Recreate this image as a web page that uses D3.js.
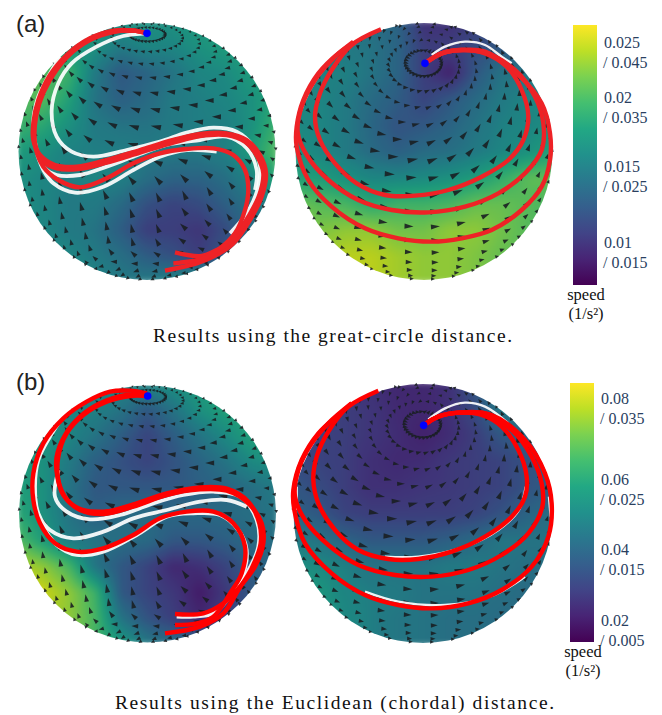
<!DOCTYPE html>
<html>
<head>
<meta charset="utf-8">
<script src="https://cdn.jsdelivr.net/npm/d3@7"></script>
<style>
  html, body { margin: 0; padding: 0; background: #fff; }
  svg { display: block; }
</style>
</head>
<body>
<div id="my_dataviz"></div>
<script>
const fieldTopLeft = [
  [.60,.60,.60,.60,.55,.55,.55,.60,.60,.60,.60],
  [.65,.65,.60,.55,.45,.50,.50,.55,.60,.62,.62],
  [.75,.75,.70,.45,.30,.35,.42,.50,.52,.60,.65],
  [.75,.75,.62,.42,.33,.38,.45,.47,.50,.55,.65],
  [.70,.65,.55,.45,.42,.42,.45,.47,.47,.55,.70],
  [.60,.55,.48,.47,.47,.45,.45,.45,.48,.60,.75],
  [.55,.50,.47,.50,.48,.40,.35,.35,.40,.50,.65],
  [.55,.50,.45,.45,.38,.27,.22,.25,.33,.42,.50],
  [.55,.50,.45,.42,.32,.20,.20,.17,.25,.38,.45],
  [.55,.55,.50,.45,.40,.32,.27,.20,.30,.45,.50],
  [.60,.60,.55,.50,.45,.45,.50,.60,.60,.60,.60]
];
const fieldTopRight = [
  [.40,.40,.40,.40,.35,.15,.15,.20,.30,.40,.40],
  [.45,.45,.45,.42,.35,.20,.20,.25,.30,.30,.30],
  [.48,.48,.48,.42,.35,.20,.10,.30,.42,.42,.40],
  [.50,.50,.45,.38,.32,.22,.30,.38,.45,.50,.50],
  [.52,.50,.45,.36,.28,.30,.35,.42,.48,.50,.55],
  [.55,.50,.45,.38,.33,.38,.40,.45,.50,.55,.62],
  [.62,.60,.55,.50,.50,.52,.55,.60,.68,.76,.78],
  [.80,.75,.72,.65,.70,.70,.72,.78,.78,.75,.72],
  [.85,.82,.85,.85,.80,.80,.85,.85,.80,.75,.72],
  [.85,.88,.92,.92,.88,.85,.85,.82,.78,.75,.72],
  [.85,.88,.92,.92,.88,.85,.85,.82,.78,.75,.72]
];
const fieldBottomLeft = [
  [.50,.50,.50,.50,.50,.50,.55,.60,.65,.65,.65],
  [.55,.55,.50,.48,.42,.30,.42,.55,.62,.65,.65],
  [.58,.58,.50,.42,.32,.22,.32,.42,.52,.62,.65],
  [.60,.55,.45,.33,.27,.22,.28,.35,.42,.52,.55],
  [.62,.55,.42,.30,.30,.30,.30,.33,.36,.40,.45],
  [.65,.55,.42,.33,.38,.38,.37,.37,.38,.40,.42],
  [.75,.60,.45,.42,.40,.38,.30,.30,.33,.38,.40],
  [.92,.85,.72,.42,.30,.22,.12,.15,.22,.33,.36],
  [1.0,.95,.85,.70,.30,.22,.18,.08,.18,.30,.35],
  [.95,.90,.85,.72,.42,.28,.20,.12,.22,.30,.35],
  [.90,.85,.80,.72,.60,.45,.40,.35,.35,.35,.35]
];
const fieldBottomRight = [
  [.17,.17,.17,.15,.12,.12,.15,.30,.50,.50,.50],
  [.20,.20,.20,.17,.13,.12,.15,.25,.45,.50,.50],
  [.22,.22,.20,.17,.14,.10,.14,.20,.30,.35,.35],
  [.25,.22,.20,.15,.13,.14,.18,.20,.22,.28,.30],
  [.30,.25,.20,.15,.15,.17,.18,.20,.22,.28,.32],
  [.35,.30,.22,.20,.20,.20,.20,.22,.28,.35,.40],
  [.45,.42,.35,.30,.30,.30,.33,.38,.43,.42,.42],
  [.55,.52,.48,.42,.42,.42,.45,.45,.42,.40,.40],
  [.62,.58,.50,.47,.45,.42,.42,.42,.40,.38,.38],
  [.62,.58,.52,.47,.43,.42,.40,.40,.38,.38,.38],
  [.62,.58,.52,.47,.43,.42,.40,.40,.38,.38,.38]
];

// Arrow heading on screen in degrees (0 = right, 90 = up), rows top to bottom
const headingLeft = [
  [120,130,150,170,190,210,230],
  [110,125,150,170,180,195,215],
  [110,125,150,165,175,185,195],
  [100,120,155,170,170,165,150],
  [ 95,100,115,115,115,120,125],
  [115,105, 95,100,150,130,120],
  [110,100,230,210,190,180,150]
];
const headingRight = [
  [273,266,248,200,152,134,127],
  [292,292,295, 20,105,107,108],
  [310,319,338, 20, 62, 81, 90],
  [325,336,355, 20, 45, 64, 75],
  [325,335,350,  5, 25, 45, 65],
  [330,340,352,  0, 10, 25, 40],
  [335,345,355,  0,  5, 15, 25]
];

// Arrow grid on the sphere
const arrowLats = [82,74,66,58,50,42,34,26,18,10,2,-6,-14,-22,-30,-38,-46,-54,-62,-70,-78];
const arrowLons = [0,12,24,36,48,60,72,84,96,108,120,132,144,156,168,180,192,204,216,228,240,252,264,276,288,300,312,324,336,348];

// Trajectories as [x, y], in units of a third of a pixel per panel
const redTopLeft = [
  [[441,100],[400,92],[340,92],[270,115],[200,165],[150,225],[115,300],[100,370],[100,420],[120,465],[165,495],[230,500],[320,480],[420,450],[520,420],[600,402],[680,400],[740,420],[780,465],[798,520],[785,590],[750,660],[700,730],[640,770],[590,790],[495,812]],
  [[441,100],[400,92],[340,94],[270,118],[200,170],[150,232],[118,305],[103,375],[105,430],[125,480],[170,505],[235,507],[320,488],[420,458],[520,428],[600,408],[680,405],[735,425],[772,470],[790,520],[778,585],[745,650],[695,725],[650,750],[605,768],[525,757]],
  [[441,100],[400,92],[340,96],[270,120],[200,172],[150,240],[118,310],[104,380],[106,440],[130,500],[175,540],[240,562],[320,535],[400,490],[480,460],[560,447],[640,445],[700,465],[735,510],[745,570],[735,630],[705,700],[660,745],[610,775],[520,790]]
];
const whiteTopLeft = [
  [[441,100],[370,108],[290,140],[215,190],[175,250],[155,330],[170,410],[215,455],[280,470],[380,450],[480,425],[560,398],[640,383],[710,395],[760,440],[780,500],[772,570],[740,640],[690,700]],
  [[180,170],[150,220],[115,290],[100,360],[110,450],[135,505],[170,525],[240,525],[320,500],[400,470],[500,435],[600,420],[680,410],[740,445],[770,510],[765,570]],
  [[112,465],[130,510],[160,550],[225,578],[310,560],[400,510],[480,470],[560,450],[650,455]]
];
const redTopRight = [
  [[420,190],[470,160],[530,150],[600,160],[665,200],[710,270],[730,350],[715,420],[670,480],[590,530],[490,570],[390,587],[300,585],[215,550],[150,490],[105,420],[90,350],[105,280],[140,210],[200,135],[288,88]],
  [[420,190],[470,160],[530,150],[600,158],[690,210],[750,290],[775,370],[770,450],[720,520],[640,580],[540,620],[430,637],[320,630],[220,600],[130,540],[65,465],[38,395],[50,320],[90,240],[150,170],[205,125]],
  [[420,190],[470,160],[530,150],[600,155],[700,225],[770,310],[795,400],[795,480],[770,560],[710,630],[620,690],[530,715],[440,725],[340,715],[240,685],[140,620],[70,540],[35,440],[35,380],[55,300],[100,220],[160,160],[205,130]]
];
const whiteTopRight = [
  [[440,165],[480,140],[540,125],[600,135],[650,170],[680,190]]
];
const redBottomLeft = [
  [[441,108],[390,108],[320,125],[250,165],[200,220],[175,290],[175,360],[195,410],[240,450],[310,462],[400,440],[500,405],[600,388],[680,392],[745,430],[785,490],[790,550],[765,620],[720,680],[670,730],[610,760],[525,762]],
  [[441,100],[390,92],[330,95],[260,125],[190,175],[130,250],[100,340],[100,420],[120,490],[165,550],[230,575],[310,565],[400,525],[480,475],[560,455],[640,455],[700,490],[735,560],[725,640],[690,700],[640,770],[590,790],[525,795]],
  [[441,105],[380,105],[300,130],[240,170],[195,225],[170,290],[172,350],[190,405],[235,445],[310,455],[400,433],[500,400],[600,382],[680,386],[745,425],[778,490],[782,550],[755,625],[715,690],[670,760],[600,800],[495,820]]
];
const whiteBottomLeft = [
  [[176,330],[165,410],[200,455],[270,478],[360,465],[460,430],[550,405],[640,395],[720,410],[770,480],[775,560],[740,640],[690,710],[640,760],[580,770],[530,770]],
  [[185,175],[150,230],[115,300],[105,380],[115,460],[150,510],[220,535],[310,515],[400,475],[500,450],[600,425],[680,420],[740,440]],
  [[118,480],[170,555],[230,585],[310,575],[410,525],[500,470],[580,460],[660,465],[715,510],[740,570],[730,640],[680,720],[620,790]]
];
const redBottomRight = [
  [[416,196],[460,170],[520,158],[590,165],[650,200],[700,270],[725,350],[720,410],[680,470],[600,530],[500,575],[400,597],[310,597],[220,570],[150,510],[100,430],[85,360],[95,290],[130,215],[190,140],[280,92]],
  [[416,196],[460,170],[520,158],[600,160],[680,210],[740,290],[770,370],[772,440],[730,520],[650,585],[550,630],[440,650],[330,645],[220,615],[130,555],[60,480],[30,410],[40,330],[80,250],[130,190],[200,130]],
  [[416,196],[460,170],[520,158],[620,165],[720,240],[780,340],[800,430],[790,530],[740,620],[650,690],[550,730],[440,745],[340,735],[240,705],[140,640],[60,550],[28,450],[25,390],[50,300],[100,220],[160,165],[200,130]]
];
const whiteBottomRight = [
  [[430,178],[480,145],[540,128],[600,140],[670,190]],
  [[722,380],[702,450],[640,510],[540,560],[400,590],[300,590]],
  [[35,380],[35,450]],
  [[792,410],[797,470]],
  [[720,650],[620,708],[480,735],[340,725],[240,695]]
];

// Colour bar tick labels, top to bottom
const ticksTop = [["0.025","/ 0.045"],["0.02","/ 0.035"],["0.015","/ 0.025"],["0.01","/ 0.015"]];
const ticksBottom = [["0.08","/ 0.035"],["0.06","/ 0.025"],["0.04","/ 0.015"],["0.02","/ 0.005"]];
const captions = ["Results using the great-circle distance.", "Results using the Euclidean (chordal) distance."];

const pageWidth = 662, pageHeight = 715;

const panels = [
  { x0: 0,   y0: 0,   cx: 147, cy: 151.5, r: 128.5, tilt: 23, field: fieldTopLeft,     heading: headingLeft,  red: redTopLeft,     white: whiteTopLeft,     redColor: "#ee2226", pole: [441,100] },
  { x0: 285, y0: 0,   cx: 424, cy: 151.5, r: 128.5, tilt: 46, field: fieldTopRight,    heading: headingRight, red: redTopRight,    white: whiteTopRight,    redColor: "#ee2226", pole: [420,190] },
  { x0: 0,   y0: 360, cx: 147.5, cy: 514, r: 128.5, tilt: 23, field: fieldBottomLeft,  heading: headingLeft,  red: redBottomLeft,  white: whiteBottomLeft,  redColor: "#ff0000", pole: [443,108] },
  { x0: 285, y0: 360, cx: 423, cy: 513.5, r: 129.5, tilt: 46, field: fieldBottomRight, heading: headingRight, red: redBottomRight, white: whiteBottomRight, redColor: "#ff0000", pole: [416,196] }
];

const svg = d3.select("#my_dataviz")
    .append("svg")
    .attr("width", pageWidth)
    .attr("height", pageHeight);

const defs = svg.append("defs");
const viridis = d3.scaleSequential(d3.interpolateViridis).domain([0, 1]);

// Bilinear lookup in a rows-by-cols table, u and v run from 0 to 1
function sampleGrid(grid, u, v) {
    const rows = grid.length - 1, cols = grid[0].length - 1;
    const fx = Math.max(0, Math.min(cols, u * cols)), fy = Math.max(0, Math.min(rows, v * rows));
    const i = Math.min(cols - 1, Math.floor(fx)), j = Math.min(rows - 1, Math.floor(fy));
    const tx = fx - i, ty = fy - j;
    const top = grid[j][i] * (1 - tx) + grid[j][i + 1] * tx;
    const bottom = grid[j + 1][i] * (1 - tx) + grid[j + 1][i + 1] * tx;
    return top * (1 - ty) + bottom * ty;
}

// Paint the speed field into an image
function fieldImage(grid) {
    const size = 220;
    const canvas = document.createElement("canvas");
    canvas.width = size;
    canvas.height = size;
    const ctx = canvas.getContext("2d");
    for (let y = 0; y < size; y++) {
        for (let x = 0; x < size; x++) {
            ctx.fillStyle = viridis(sampleGrid(grid, x / (size - 1), y / (size - 1)));
            ctx.fillRect(x, y, 1, 1);
        }
    }
    return canvas.toDataURL();
}

const arrowSize = d3.scaleLinear().domain([90, 70, 45]).range([0.65, 0.55, 1]).clamp(true);
const line = d3.line().curve(d3.curveCatmullRom.alpha(0.5));

panels.forEach((p, idx) => {
    const x = d3.scaleLinear().domain([0, 3]).range([p.x0, p.x0 + 1]);
    const y = d3.scaleLinear().domain([0, 3]).range([p.y0, p.y0 + 1]);
    const tilt = [5, -p.tilt];
    const projection = d3.geoOrthographic()
        .rotate(tilt)
        .scale(p.r)
        .translate([p.cx, p.cy])
        .clipAngle(90);
    const centre = [-tilt[0], -tilt[1]];
    const cosTable = p.heading.map(r => r.map(a => Math.cos(a * Math.PI / 180)));
    const sinTable = p.heading.map(r => r.map(a => Math.sin(a * Math.PI / 180)));

    defs.append("clipPath").attr("id", "disc" + idx)
        .append("circle").attr("cx", p.cx).attr("cy", p.cy).attr("r", p.r);

    const g = svg.append("g");

    // Speed field, dimmed a little for the surface lighting in the original
    g.append("g").attr("clip-path", `url(#disc${idx})`)
        .append("image")
        .attr("href", fieldImage(p.field))
        .attr("x", p.cx - p.r * 1.02)
        .attr("y", p.cy - p.r * 1.02)
        .attr("width", p.r * 2.04)
        .attr("height", p.r * 2.04)
        .attr("preserveAspectRatio", "none")
        .style("filter", "blur(3px) brightness(0.92)");

    // Arrows
    const arrows = d3.cross(arrowLats, arrowLons)
        .map(([lat, lon]) => ({ lat, lon, z: Math.cos(d3.geoDistance([lon, lat], centre)) }))
        .filter(d => d.z > -0.02);

    g.append("g").selectAll("path")
        .data(arrows)
        .enter()
        .append("path")
        .attr("d", d => {
            const [px, py] = projection([d.lon, d.lat]);
            const u = (px - p.cx) / (2 * p.r) + 0.5, v = (py - p.cy) / (2 * p.r) + 0.5;
            const h = Math.atan2(sampleGrid(sinTable, u, v), sampleGrid(cosTable, u, v));
            const k = arrowSize(d.lat);
            const len = 10.5 * k * (0.3 + 0.7 * Math.max(0, d.z));
            const wid = 2.8 * Math.max(k, 0.7) * (0.6 + 0.4 * Math.max(0, d.z));
            const ax = Math.cos(h), ay = -Math.sin(h);
            return d3.line()([
                [px + ax * len * 0.55, py + ay * len * 0.55],
                [px - ax * len * 0.45 - ay * wid, py - ay * len * 0.45 + ax * wid],
                [px - ax * len * 0.45 + ay * wid, py - ay * len * 0.45 - ax * wid]
            ]) + "Z";
        })
        .attr("fill", "#1a1f22")
        .attr("fill-opacity", 0.9);

    // True trajectories in white
    g.append("g").selectAll("path")
        .data(p.white)
        .enter()
        .append("path")
        .attr("d", d => line(d.map(q => [x(q[0]), y(q[1])])))
        .attr("fill", "none")
        .attr("stroke", "#fff")
        .attr("stroke-opacity", 0.92)
        .attr("stroke-width", idx % 2 ? 2.4 : 3.8);

    // Recovered trajectories in red
    g.append("g").selectAll("path")
        .data(p.red)
        .enter()
        .append("path")
        .attr("d", d => line(d.map(q => [x(q[0]), y(q[1])])))
        .attr("fill", "none")
        .attr("stroke", p.redColor)
        .attr("stroke-width", 4.4);

    // Start point
    g.append("circle")
        .attr("cx", x(p.pole[0]))
        .attr("cy", y(p.pole[1]))
        .attr("r", 3.8)
        .attr("fill", "#0000ff");
});

// Colour bars
defs.append("linearGradient")
    .attr("id", "viridisBar")
    .attr("x1", 0).attr("x2", 0).attr("y1", 1).attr("y2", 0)
    .selectAll("stop")
    .data(d3.range(0, 1.001, 0.1))
    .enter()
    .append("stop")
    .attr("offset", d => d)
    .attr("stop-color", d => viridis(d));

function colorBar(left, top, bottom, labels, tickY) {
    svg.append("rect")
        .attr("x", left)
        .attr("y", top)
        .attr("width", 24)
        .attr("height", bottom - top)
        .attr("fill", "url(#viridisBar)");

    const tick = svg.append("g")
        .attr("font-family", "'Liberation Serif', serif")
        .attr("font-size", 16)
        .attr("fill", "#2a3f5f")
        .selectAll("g")
        .data(labels)
        .enter()
        .append("g")
        .attr("transform", (d, i) => `translate(${left + 30},${tickY[i]})`);
    tick.append("text").attr("x", 1).attr("y", -5).text(d => d[0]);
    tick.append("text").attr("y", 15).text(d => d[1]);

    const unit = svg.append("g")
        .attr("font-family", "'Liberation Serif', serif")
        .attr("font-size", 16.5)
        .attr("fill", "#111")
        .attr("text-anchor", "middle");
    unit.append("text").attr("x", left + 13).attr("y", bottom + 15).text("speed");
    unit.append("text").attr("x", left + 13).attr("y", bottom + 34).text("(1/s²)");
}

colorBar(573, 25, 285, ticksTop, [53, 108, 177, 253]);
colorBar(570, 383, 642, ticksBottom, [409, 490, 560, 631]);

// Panel letters
svg.selectAll("text.letter")
    .data(["(a)", "(b)"])
    .enter()
    .append("text")
    .attr("class", "letter")
    .attr("x", 16)
    .attr("y", (d, i) => [32, 390][i])
    .attr("font-family", "'Liberation Sans', sans-serif")
    .attr("font-size", 24)
    .attr("fill", "#222")
    .text(d => d);

// Captions
svg.selectAll("text.caption")
    .data(captions)
    .enter()
    .append("text")
    .attr("class", "caption")
    .attr("x", (d, i) => [153, 115][i])
    .attr("y", (d, i) => [342, 709][i])
    .attr("textLength", (d, i) => [359, 439][i])
    .attr("font-family", "'Liberation Serif', serif")
    .attr("font-size", 19.5)
    .attr("fill", "#111")
    .text(d => d);
</script>
</body>
</html>
